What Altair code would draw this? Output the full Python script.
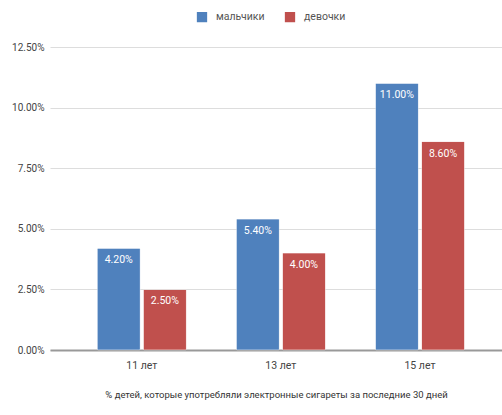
import altair as alt
import pandas as pd

ages = ["11 лет", "13 лет", "15 лет"]
boys = [0.042, 0.054, 0.110]
girls = [0.025, 0.040, 0.086]
series = ["мальчики", "девочки"]
colors = ["#4F81BD", "#C0504D"]

rows = []
for a, b, g in zip(ages, boys, girls):
    rows.append({"age": a, "series": series[0], "value": b})
    rows.append({"age": a, "series": series[1], "value": g})
df = pd.DataFrame(rows)

font = "Roboto"

x = alt.X("age:N", sort=ages,
          scale=alt.Scale(paddingInner=0, paddingOuter=0.125, align=0.64),
          axis=alt.Axis(title="% детей, которые употребляли электронные сигареты за последние 30 дней",
                        labelAngle=0, labelFontSize=10.5, labelColor="#444", labelFont=font,
                        labelPadding=10, ticks=False, domainColor="#999", domainWidth=2,
                        titleFontSize=9.5, titleFontWeight="normal", titleColor="#333",
                        titleFont=font, titlePadding=19))
xo = alt.XOffset("series:N", sort=series,
                 scale=alt.Scale(paddingInner=0.065, paddingOuter=0.54))
y = alt.Y("value:Q",
          scale=alt.Scale(domain=[0, 0.125], nice=False),
          axis=alt.Axis(title=None, format=".2%", values=[0, 0.025, 0.05, 0.075, 0.1, 0.125],
                        labelFontSize=10, labelColor="#444", labelFont=font, labelPadding=6,
                        ticks=False, domain=False, gridColor="#dddddd", gridWidth=1))

color = alt.Color("series:N", sort=series,
                  scale=alt.Scale(domain=series, range=colors),
                  legend=alt.Legend(title=None, orient="none", direction="horizontal",
                                    legendX=145, legendY=-37, symbolType="square",
                                    symbolSize=140, labelFontSize=10.5, labelColor="#555",
                                    labelFont=font, columnPadding=16, labelOffset=7,
                                    symbolOpacity=1))

bars = alt.Chart(df).mark_bar(cornerRadius=1, stroke="#ffffff", strokeOpacity=0.4, strokeWidth=0.8).encode(
    x=x, xOffset=xo, y=y, color=color)

labels = alt.Chart(df).mark_text(color="white", fontSize=10.5, font=font, baseline="middle", dy=12).encode(
    x=alt.X("age:N", sort=ages), xOffset=alt.XOffset("series:N", sort=series), y="value:Q",
    text=alt.Text("value:Q", format=".2%"))

chart = alt.layer(bars, labels).properties(
    width=452, height=303,
    autosize=alt.AutoSizeParams(type="none"),
    padding={"left": 50, "top": 47, "right": 0, "bottom": 65},
    background="white",
).configure_view(stroke=None)

chart.save("out.html", embed_options={"renderer": "svg", "actions": False})
